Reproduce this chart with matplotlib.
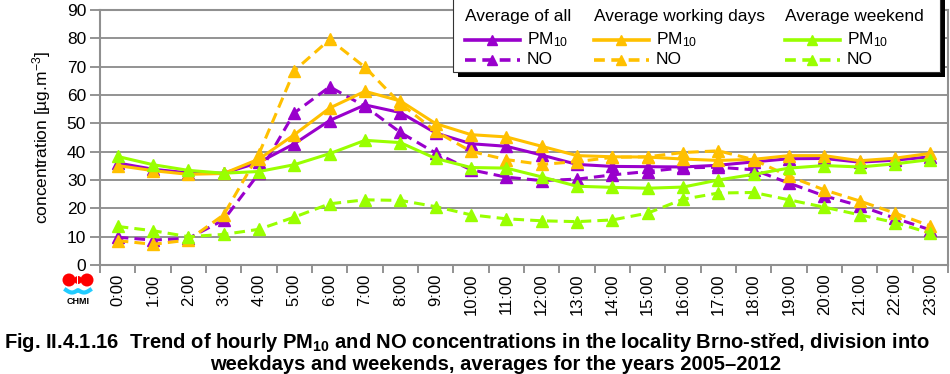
import matplotlib
matplotlib.use('Agg')
import matplotlib.pyplot as plt
from matplotlib.lines import Line2D
from matplotlib.patches import Rectangle, Ellipse
import numpy as np

plt.rcParams['font.family'] = ['Liberation Sans', 'DejaVu Sans']
plt.rcParams['mathtext.default'] = 'regular'

# hours of the day
hours = ['%d:00' % h for h in range(24)]

# PM10 and NO, average of all days
pm_all = [36, 33.8, 32.5, 32.4, 36.2, 42.8, 51, 56.5, 53.8, 46.6, 42.8, 41.9,
          38.8, 35.5, 34.8, 34.7, 34.6, 35.2, 36.4, 37.5, 37.6, 36.3, 37, 38.2]
no_all = [9.8, 8.8, 9.4, 15.9, 32.4, 53.7, 62.9, 56, 46.8, 39.5, 33.6, 31,
          29.8, 30.3, 31.8, 33, 34.3, 34.5, 33.6, 28.9, 24.4, 20.9, 16.5, 12.4]

# working days
pm_work = [35.1, 33.3, 32, 32.3, 37.4, 46, 55.4, 61.3, 57.9, 49.9, 46, 45.2,
           41.9, 38.6, 38.2, 38.1, 37.4, 36.9, 37.3, 38.6, 38.6, 36.8, 37.7, 39.4]
no_work = [8.6, 7.3, 8.8, 17.7, 39.3, 68.6, 79.6, 69.8, 57, 47.2, 40.1, 37.2,
           35.5, 36.5, 38, 38.2, 39.7, 40.3, 37.2, 31.3, 26.5, 22.6, 18.3, 13.8]

# weekend
pm_wkd = [38.3, 35.4, 33.4, 32.4, 33, 35.4, 39.3, 44, 43.2, 37.6, 34.4, 34.2,
          31.1, 27.8, 27.4, 27.1, 27.5, 30, 32, 34.2, 35.1, 34.6, 35.7, 37.2]
no_wkd = [13.6, 12.1, 10, 10.8, 12.6, 16.9, 21.6, 23, 22.8, 20.6, 17.7, 16.3,
          15.6, 15.3, 15.9, 18.3, 23.2, 25.4, 25.6, 23, 20.4, 17.7, 15, 11.2]

purple = '#9900cc'
orange = '#ffc000'
green = '#99ff00'
dash = (3.5, 2)

W, H = 950, 374
fig = plt.figure(figsize=(9.5, 3.74), dpi=100)
ax = fig.add_axes([100 / W, 1 - 265 / H, 848 / W, 255 / H])

x = np.arange(len(hours))
series = [
    (pm_all, purple, '-'), (no_all, purple, '--'),
    (pm_work, orange, '-'), (no_work, orange, '--'),
    (pm_wkd, green, '-'), (no_wkd, green, '--'),
]
for vals, col, ls in series:
    ln, = ax.plot(x, vals, color=col, lw=2.2, marker='^', ms=8,
                  markeredgecolor=col, zorder=3)
    if ls == '--':
        ln.set_dashes(dash)

ax.set_xlim(-0.5, 23.5)
ax.set_ylim(0, 90)
ax.set_yticks(range(0, 91, 10))
ax.grid(axis='y', color='#808080', lw=1.2)
ax.set_axisbelow(True)
for s in ax.spines.values():
    s.set_color('#909090')
    s.set_linewidth(1.5)

ax.set_xticks(x)
ax.set_xticklabels(hours, rotation=90, va='top', ha='center')
ax.set_xticks(np.arange(-0.5, 24, 1), minor=True)
ax.tick_params(axis='x', which='major', length=0, pad=6, labelsize=12)
ax.tick_params(axis='x', which='minor', length=6, color='#808080', width=1.2)
ax.tick_params(axis='y', length=7, color='#808080', width=1.2, labelsize=12.5, pad=3)
ax.set_ylabel('concentration [µg.m$^{-3}$]', fontsize=12.5, labelpad=10)


def fx(px):
    return px / W


def fy(py):
    return 1 - py / H


# legend box with shadow
fig.add_artist(Rectangle((fx(458), fy(77)), (940 - 453) / W, 79 / H,
                         transform=fig.transFigure, fc='black', ec='none', zorder=5))
fig.add_artist(Rectangle((fx(453), fy(72)), (940 - 453) / W, 74 / H,
                         transform=fig.transFigure, fc='white', ec='#333333',
                         lw=0.8, zorder=6))
groups = [('Average of all', purple, 465), ('Average working days', orange, 594),
          ('Average weekend', green, 785)]
for title, col, x0 in groups:
    fig.text(fx(x0), fy(16), title, fontsize=12.5, va='center', ha='left', zorder=7)
    for py, lab, dashed in [(40, 'PM$_{10}$', False), (60, 'NO', True)]:
        ln = Line2D([fx(x0), fx(x0 + 27), fx(x0 + 55)], [fy(py)] * 3,
                    transform=fig.transFigure, color=col, lw=2.6, marker='^',
                    ms=7, markevery=[1], zorder=7)
        if dashed:
            ln.set_dashes((3, 1.8))
        fig.add_artist(ln)
        fig.text(fx(x0 + 62), fy(py), lab, fontsize=12.5, va='center',
                 ha='left', zorder=7)

# CHMI logo
for cx, r in ((69, 6.5), (87, 6.5), (78, 4)):
    fig.add_artist(Ellipse((fx(cx), fy(280)), 2 * r / W, 2 * r / H,
                           transform=fig.transFigure, fc='#ff0000', ec='none'))
fig.add_artist(Rectangle((fx(76.5), fy(287)), 1.5 / W, 14 / H,
                         transform=fig.transFigure, fc='white', ec='none'))
wx = np.linspace(66, 90, 40)
wy = 290 + 2.5 * np.abs(np.sin((wx - 66) / 24 * 2 * np.pi))
fig.add_artist(Line2D(fx(wx), fy(wy), transform=fig.transFigure,
                      color='#22ccff', lw=3))
fig.text(fx(78), fy(302), 'CHMI', fontsize=6.5, fontweight='bold',
         ha='center', va='center')

# caption
cap_font = ['Liberation Sans Narrow', 'Liberation Sans', 'DejaVu Sans']
fig.text(fx(4), fy(343), 'Fig. II.4.1.16  Trend of hourly PM$_{10}$ and NO concentrations '
         'in the locality Brno-střed, division into', fontsize=14.5,
         fontweight='bold', family=cap_font, va='center', ha='left')
fig.text(fx(210), fy(364), 'weekdays and weekends, averages for the years 2005–2012',
         fontsize=14.5, fontweight='bold', family=cap_font, va='center', ha='left')

fig.savefig('out.png', dpi=100)
